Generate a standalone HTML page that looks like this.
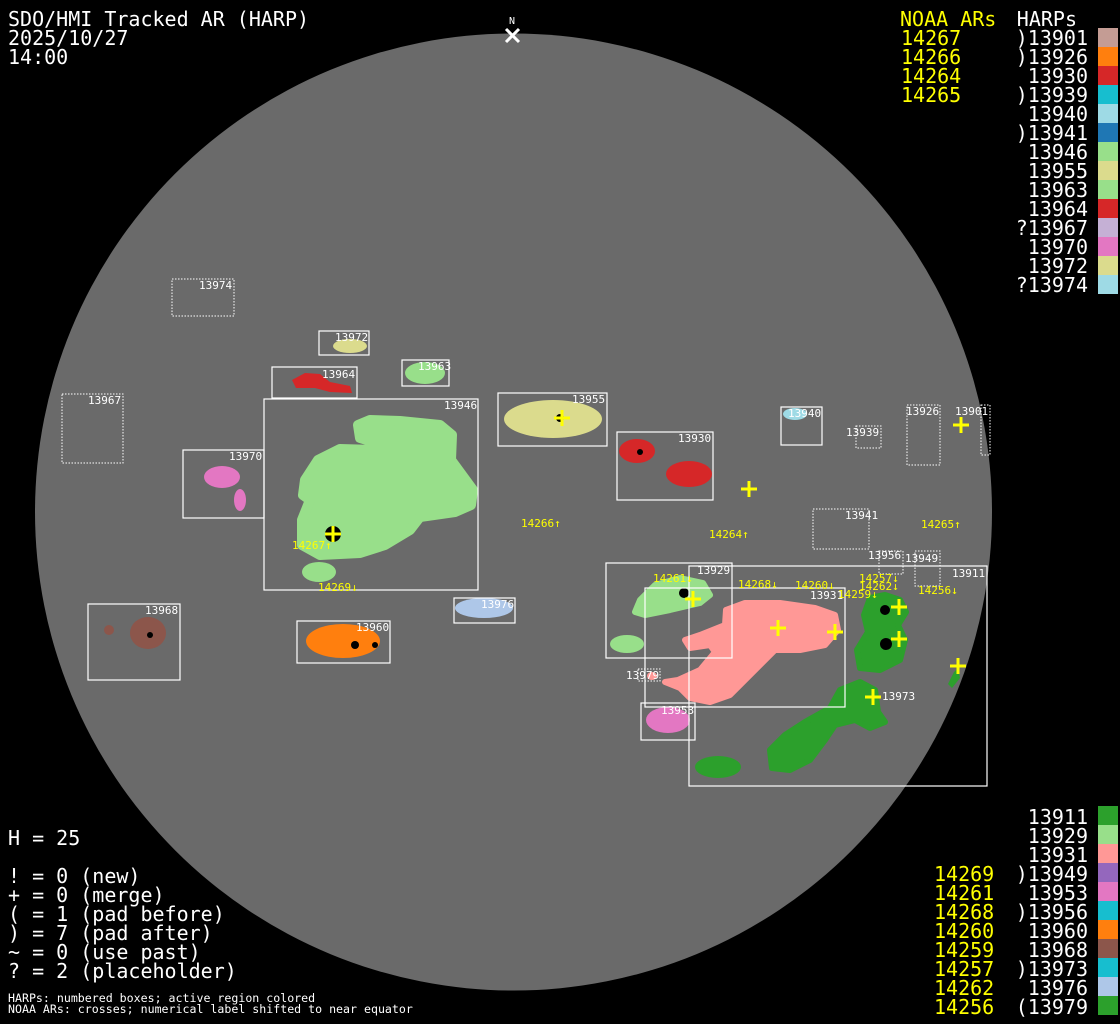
<!DOCTYPE html>
<html><head><meta charset="utf-8"><style>
html,body{margin:0;padding:0;background:#000;width:1120px;height:1024px;overflow:hidden}
svg{display:block}
text{font-family:"DejaVu Sans Mono","Liberation Mono",monospace}
</style></head><body>
<svg width="1120" height="1024" viewBox="0 0 1120 1024" xmlns="http://www.w3.org/2000/svg">
<rect width="1120" height="1024" fill="#000"/>
<circle cx="513.5" cy="512" r="478.5" fill="#6a6a6a"/>
<text x="512" y="24" fill="#fff" font-size="10" text-anchor="middle">N</text>
<path d="M506 29 L519 42 M519 29 L506 42" stroke="#fff" stroke-width="3"/>

<g stroke-linejoin="round">
<path d="M358 425 L370 420 L400 421 L440 425 L452 435 L451 460 L462 475 L473 490 L471 505 L455 512 L420 517 L410 530 L385 545 L360 553 L320 555 L302 545 L302 520 L310 500 L303 495 L305 480 L318 460 L340 449 L375 450 L388 447 L385 440 L370 441 L360 438 Z" fill="#98df8a" stroke="#98df8a" stroke-width="10"/>
<ellipse cx="319" cy="572" rx="17" ry="10" fill="#98df8a"/>
<ellipse cx="350" cy="346" rx="17" ry="7" fill="#dbdb8d"/>
<path d="M292 380 L305 373 L320 374 L330 382 L350 386 L352 393 L330 392 L315 388 L296 388 Z" fill="#d62728"/>
<ellipse cx="425" cy="373" rx="20" ry="11" fill="#98df8a"/>
<ellipse cx="222" cy="477" rx="18" ry="11" fill="#e377c2"/>
<ellipse cx="240" cy="500" rx="6" ry="11" fill="#e377c2"/>
<ellipse cx="553" cy="419" rx="49" ry="19" fill="#dbdb8d"/>
<ellipse cx="637" cy="451" rx="18" ry="12" fill="#d62728"/>
<ellipse cx="689" cy="474" rx="23" ry="13" fill="#d62728"/>
<ellipse cx="795" cy="414" rx="12" ry="6" fill="#9edae5"/>
<ellipse cx="148" cy="633" rx="18" ry="16" fill="#8c564b"/>
<ellipse cx="109" cy="630" rx="5" ry="5" fill="#8c564b"/>
<ellipse cx="343" cy="641" rx="37" ry="17" fill="#ff7f0e"/>
<ellipse cx="484" cy="608" rx="29" ry="10" fill="#aec7e8"/>
<path d="M640 600 L655 585 L680 578 L703 583 L710 595 L700 603 L670 610 L645 615 L635 612 Z" fill="#98df8a" stroke="#98df8a" stroke-width="6"/>
<ellipse cx="627" cy="644" rx="17" ry="9" fill="#98df8a"/>
<path d="M726 610 L745 603 L780 603 L815 608 L835 615 L838 630 L825 645 L800 650 L775 650 L765 660 L745 680 L730 695 L710 702 L690 698 L680 688 L665 682 L678 680 L700 670 L715 652 L710 645 L690 648 L685 640 L700 635 L725 625 Z" fill="#ff9896" stroke="#ff9896" stroke-width="6"/>
<path d="M870 598 L885 595 L900 600 L906 612 L898 625 L905 640 L900 660 L880 670 L860 668 L857 650 L868 632 L864 615 Z" fill="#2ca02c" stroke="#2ca02c" stroke-width="6"/>
<path d="M840 690 L860 682 L875 690 L878 712 L885 722 L870 728 L855 720 L835 725 L825 740 L810 760 L790 770 L772 768 L770 750 L785 735 L805 722 L830 708 Z" fill="#2ca02c" stroke="#2ca02c" stroke-width="6"/>
<ellipse cx="718" cy="767" rx="23" ry="11" fill="#2ca02c"/>
<path d="M954 672 L958 668 L960 678 L952 688 L948 684 Z" fill="#2ca02c"/>
<ellipse cx="668" cy="720" rx="22" ry="13" fill="#e377c2"/>
<ellipse cx="652" cy="676" rx="5" ry="4" fill="#ff9896"/>
</g>
<g fill="#000">
<circle cx="333" cy="534" r="8"/><circle cx="684" cy="593" r="5"/><circle cx="885" cy="610" r="5"/><circle cx="886" cy="644" r="6"/>
<circle cx="560" cy="418" r="4"/><circle cx="640" cy="452" r="3"/><circle cx="355" cy="645" r="4"/>
<circle cx="375" cy="645" r="3"/><circle cx="150" cy="635" r="3"/>
</g>

<g fill="none" stroke="#fff" stroke-width="1.2">
<rect x="319" y="331" width="50" height="24"/>
<rect x="272" y="367" width="85" height="31"/>
<rect x="402" y="360" width="47" height="26"/>
<rect x="264" y="399" width="214" height="191"/>
<rect x="183" y="450" width="81" height="68"/>
<rect x="498" y="393" width="109" height="53"/>
<rect x="617" y="432" width="96" height="68"/>
<rect x="781" y="407" width="41" height="38"/>
<rect x="88" y="604" width="92" height="76"/>
<rect x="297" y="621" width="93" height="42"/>
<rect x="454" y="598" width="61" height="25"/>
<rect x="606" y="563" width="126" height="95"/>
<rect x="645" y="588" width="200" height="119"/>
<rect x="689" y="566" width="298" height="220"/>
<rect x="641" y="703" width="54" height="37"/>
</g>
<g fill="none" stroke="#fff" stroke-width="1" stroke-dasharray="1.5,1.5">
<rect x="172" y="279" width="62" height="37"/>
<rect x="62" y="394" width="61" height="69"/>
<rect x="856" y="426" width="25" height="22"/>
<rect x="907" y="405" width="33" height="60"/>
<rect x="981" y="405" width="9" height="50"/>
<rect x="813" y="509" width="56" height="40"/>
<rect x="638" y="669" width="22" height="12"/>
<rect x="879" y="551" width="24" height="23"/>
<rect x="915" y="551" width="25" height="35"/>
</g>
<g fill="#fff" font-size="11">
<text x="199" y="289">13974</text><text x="335" y="341">13972</text><text x="322" y="378">13964</text>
<text x="418" y="370">13963</text><text x="88" y="404">13967</text><text x="444" y="409">13946</text>
<text x="229" y="460">13970</text><text x="572" y="403">13955</text><text x="678" y="442">13930</text>
<text x="788" y="417">13940</text><text x="846" y="436">13939</text><text x="906" y="415">13926</text>
<text x="955" y="415">13901</text><text x="845" y="519">13941</text><text x="145" y="614">13968</text>
<text x="356" y="631">13960</text><text x="481" y="608">13976</text><text x="697" y="574">13929</text>
<text x="810" y="599">13931</text><text x="952" y="577">13911</text><text x="661" y="714">13953</text>
<text x="626" y="679">13979</text><text x="868" y="559">13956</text><text x="905" y="562">13949</text>
<text x="882" y="700">13973</text>
</g>
<g fill="#ffff00" font-size="11">
<text x="521" y="527">14266↑</text><text x="709" y="538">14264↑</text><text x="921" y="528">14265↑</text>
<text x="292" y="549">14267↑</text><text x="318" y="591">14269↓</text><text x="653" y="582">14261↓</text>
<text x="738" y="588">14268↓</text><text x="795" y="589">14260↓</text><text x="859" y="582">14257↓</text>
<text x="859" y="590">14262↓</text><text x="838" y="598">14259↓</text><text x="918" y="594">14256↓</text>
</g>
<g stroke="#ffff00" stroke-width="3">
<path d="M325 534h16M333 526v16"/><path d="M554 418h16M562 410v16"/><path d="M953 425h16M961 417v16"/>
<path d="M741 489h16M749 481v16"/><path d="M685 599h16M693 591v16"/><path d="M770 628h16M778 620v16"/>
<path d="M827 632h16M835 624v16"/><path d="M891 607h16M899 599v16"/><path d="M891 639h16M899 631v16"/>
<path d="M950 666h16M958 658v16"/><path d="M865 697h16M873 689v16"/>
</g>

<g fill="#fff" font-size="20">
<text x="8" y="26">SDO/HMI Tracked AR (HARP)</text>
<text x="8" y="45">2025/10/27</text>
<text x="8" y="64">14:00</text>
<text x="8" y="845">H = 25</text>
<text x="8" y="883">! = 0 (new)</text>
<text x="8" y="902">+ = 0 (merge)</text>
<text x="8" y="921">( = 1 (pad before)</text>
<text x="8" y="940">) = 7 (pad after)</text>
<text x="8" y="959">~ = 0 (use past)</text>
<text x="8" y="978">? = 2 (placeholder)</text>
</g>
<g fill="#fff" font-size="11.6">
<text x="8" y="1002">HARPs: numbered boxes; active region colored</text>
<text x="8" y="1013">NOAA ARs: crosses; numerical label shifted to near equator</text>
</g>

<g fill="#ffff00" font-size="20">
<text x="900" y="26">NOAA ARs</text>
<text x="901" y="45">14267</text><text x="901" y="64">14266</text><text x="901" y="83">14264</text><text x="901" y="102">14265</text>
</g>
<g fill="#fff" font-size="20" text-anchor="end">
<text x="1077" y="26">HARPs</text>
<text x="1088" y="45">)13901</text><text x="1088" y="64">)13926</text><text x="1088" y="83">13930</text>
<text x="1088" y="102">)13939</text><text x="1088" y="121">13940</text><text x="1088" y="140">)13941</text>
<text x="1088" y="159">13946</text><text x="1088" y="178">13955</text><text x="1088" y="197">13963</text>
<text x="1088" y="216">13964</text><text x="1088" y="235">?13967</text><text x="1088" y="254">13970</text>
<text x="1088" y="273">13972</text><text x="1088" y="292">?13974</text>
</g>
<g>
<rect x="1098" y="28" width="20" height="19" fill="#c49c94"/>
<rect x="1098" y="47" width="20" height="19" fill="#ff7f0e"/>
<rect x="1098" y="66" width="20" height="19" fill="#d62728"/>
<rect x="1098" y="85" width="20" height="19" fill="#17becf"/>
<rect x="1098" y="104" width="20" height="19" fill="#9edae5"/>
<rect x="1098" y="123" width="20" height="19" fill="#1f77b4"/>
<rect x="1098" y="142" width="20" height="19" fill="#98df8a"/>
<rect x="1098" y="161" width="20" height="19" fill="#dbdb8d"/>
<rect x="1098" y="180" width="20" height="19" fill="#98df8a"/>
<rect x="1098" y="199" width="20" height="19" fill="#d62728"/>
<rect x="1098" y="218" width="20" height="19" fill="#c5b0d5"/>
<rect x="1098" y="237" width="20" height="19" fill="#e377c2"/>
<rect x="1098" y="256" width="20" height="19" fill="#dbdb8d"/>
<rect x="1098" y="275" width="20" height="19" fill="#9edae5"/>
</g>

<g fill="#ffff00" font-size="20">
<text x="934" y="881">14269</text><text x="934" y="900">14261</text><text x="934" y="919">14268</text>
<text x="934" y="938">14260</text><text x="934" y="957">14259</text><text x="934" y="976">14257</text>
<text x="934" y="995">14262</text><text x="934" y="1014">14256</text>
</g>
<g fill="#fff" font-size="20" text-anchor="end">
<text x="1088" y="824">13911</text><text x="1088" y="843">13929</text><text x="1088" y="862">13931</text>
<text x="1088" y="881">)13949</text><text x="1088" y="900">13953</text><text x="1088" y="919">)13956</text>
<text x="1088" y="938">13960</text><text x="1088" y="957">13968</text><text x="1088" y="976">)13973</text>
<text x="1088" y="995">13976</text><text x="1088" y="1014">(13979</text>
</g>
<g>
<rect x="1098" y="806" width="20" height="19" fill="#2ca02c"/>
<rect x="1098" y="825" width="20" height="19" fill="#98df8a"/>
<rect x="1098" y="844" width="20" height="19" fill="#ff9896"/>
<rect x="1098" y="863" width="20" height="19" fill="#9467bd"/>
<rect x="1098" y="882" width="20" height="19" fill="#e377c2"/>
<rect x="1098" y="901" width="20" height="19" fill="#17becf"/>
<rect x="1098" y="920" width="20" height="19" fill="#ff7f0e"/>
<rect x="1098" y="939" width="20" height="19" fill="#8c564b"/>
<rect x="1098" y="958" width="20" height="19" fill="#17becf"/>
<rect x="1098" y="977" width="20" height="19" fill="#aec7e8"/>
<rect x="1098" y="996" width="20" height="19" fill="#2ca02c"/>
</g>
</svg>
</body></html>
